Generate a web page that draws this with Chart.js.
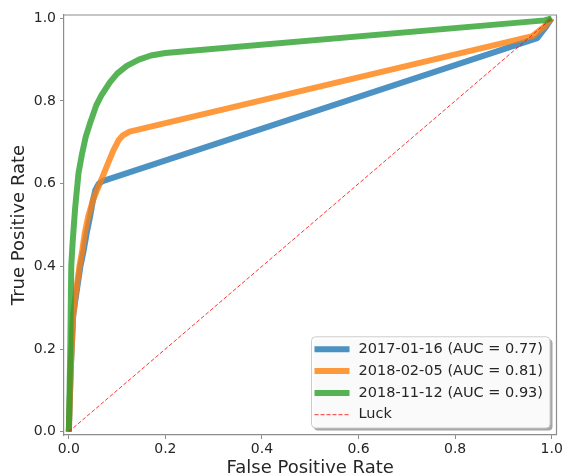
<!DOCTYPE html>
<html>
<head>
<meta charset="utf-8">
<script src="https://cdn.jsdelivr.net/npm/chart.js@4.4.1/dist/chart.umd.min.js"></script>
<style>
  html, body { margin: 0; padding: 0; background: #fff; }
</style>
</head>
<body>
<canvas id="roc" width="566" height="476"></canvas>
<script>
// tick labels on both axes
const tickValues = [0, 0.2, 0.4, 0.6, 0.8, 1.0];

// legend labels
const runLabels = [
    '2017-01-16 (AUC = 0.77)',
    '2018-02-05 (AUC = 0.81)',
    '2018-11-12 (AUC = 0.93)',
    'Luck',
];

// 2017-01-16
const fpr2017 = [0, 0.004, 0.009, 0.015, 0.024, 0.031, 0.037, 0.044, 0.05, 0.055, 0.062, 0.07, 0.97, 0.986, 1];
const tpr2017 = [0, 0.15, 0.28, 0.33, 0.40, 0.44, 0.48, 0.52, 0.56, 0.585, 0.60, 0.606, 0.952, 0.976, 1];

// 2018-02-05
const fpr2018a = [0, 0.004, 0.009, 0.014, 0.022, 0.028, 0.033, 0.04, 0.05, 0.064, 0.078, 0.092, 0.103, 0.112, 0.126, 0.96, 0.985, 1];
const tpr2018a = [0, 0.15, 0.28, 0.33, 0.40, 0.44, 0.48, 0.52, 0.56, 0.60, 0.64, 0.68, 0.705, 0.717, 0.726, 0.957, 0.98, 1];

// 2018-11-12
const fpr2018b = [0, 0.003, 0.005, 0.008, 0.013, 0.02, 0.027, 0.035, 0.045, 0.057, 0.068, 0.085, 0.10, 0.12, 0.145, 0.17, 0.2, 0.985, 1];
const tpr2018b = [0, 0.20, 0.40, 0.46, 0.54, 0.625, 0.67, 0.713, 0.75, 0.79, 0.815, 0.845, 0.866, 0.885, 0.90, 0.91, 0.916, 0.995, 1];

// random guess diagonal
const luckFpr = [0, 1];
const luckTpr = [0, 1];

const toPoints = (xs, ys) => xs.map((x, i) => ({ x: x, y: ys[i] }));

const FONT = 'DejaVu Sans';
const TEXT = '#262626';
const FRAME = '#8c8c8c';

// top and right edges of the axes box
const framePlugin = {
    id: 'frame',
    afterDatasetsDraw(chart) {
        const { ctx, chartArea } = chart;
        ctx.save();
        ctx.strokeStyle = FRAME;
        ctx.lineWidth = 1.2;
        ctx.beginPath();
        ctx.moveTo(chartArea.left, chartArea.top);
        ctx.lineTo(chartArea.right, chartArea.top);
        ctx.lineTo(chartArea.right, chartArea.bottom);
        ctx.stroke();
        ctx.restore();
    },
};

// legend inside the plot, lower right, like matplotlib with shadow
const legendPlugin = {
    id: 'boxLegend',
    afterDraw(chart) {
        const { ctx, chartArea } = chart;
        const sets = chart.data.datasets;
        ctx.save();
        ctx.font = '14.5px "' + FONT + '"';
        let maxW = 0;
        sets.forEach((ds) => {
            maxW = Math.max(maxW, ctx.measureText(ds.label).width);
        });
        const rowH = 21.8;
        const w = 47 + maxW + 7;
        const h = rowH * sets.length + 4;
        const x = chartArea.right - 6.5 - w;
        const y = chartArea.bottom - 7 - h;

        // shadow
        ctx.fillStyle = 'rgba(77,77,77,0.5)';
        ctx.beginPath();
        ctx.roundRect(x + 2.5, y + 2.5, w, h, 4);
        ctx.fill();

        ctx.fillStyle = 'rgba(255,255,255,0.95)';
        ctx.strokeStyle = '#cccccc';
        ctx.lineWidth = 1;
        ctx.beginPath();
        ctx.roundRect(x, y, w, h, 4);
        ctx.fill();
        ctx.stroke();

        sets.forEach((ds, i) => {
            const cy = y + 12.5 + i * rowH;
            ctx.strokeStyle = ds.borderColor;
            ctx.lineWidth = ds.borderWidth;
            ctx.setLineDash(ds.borderDash || []);
            ctx.beginPath();
            ctx.moveTo(x + 3, cy);
            ctx.lineTo(x + 38, cy);
            ctx.stroke();
            ctx.setLineDash([]);
            ctx.fillStyle = TEXT;
            ctx.textBaseline = 'middle';
            ctx.textAlign = 'left';
            ctx.fillText(ds.label, x + 47, cy);
        });
        ctx.restore();
    },
};

const axisCommon = {
    type: 'linear',
    afterBuildTicks: (scale) => {
        scale.ticks = tickValues.map((v) => ({ value: v }));
    },
    ticks: {
        callback: (v) => Number(v).toFixed(1),
        font: { family: FONT, size: 14 },
        color: TEXT,
        autoSkip: false,
        maxRotation: 0,
    },
    grid: {
        display: true,
        drawOnChartArea: false,
        drawTicks: true,
        tickLength: 4,
        color: FRAME,
        lineWidth: 1,
    },
    border: { display: true, color: FRAME, width: 1.2 },
};

const config = {
    type: 'scatter',
    data: {
        datasets: [
            {
                label: runLabels[0],
                data: toPoints(fpr2017, tpr2017),
                borderColor: 'rgba(31,119,180,0.8)',
                borderWidth: 6,
                order: 3,
            },
            {
                label: runLabels[1],
                data: toPoints(fpr2018a, tpr2018a),
                borderColor: 'rgba(255,127,14,0.8)',
                borderWidth: 6,
                order: 2,
            },
            {
                label: runLabels[2],
                data: toPoints(fpr2018b, tpr2018b),
                borderColor: 'rgba(44,160,44,0.8)',
                borderWidth: 6,
                order: 1,
            },
            {
                label: runLabels[3],
                data: toPoints(luckFpr, luckTpr),
                borderColor: 'rgba(255,0,0,0.8)',
                borderWidth: 1,
                borderDash: [4, 2],
                order: 0,
            },
        ].map((ds) => Object.assign(ds, {
            showLine: true,
            pointRadius: 0,
            pointHoverRadius: 0,
            tension: 0,
            fill: false,
            borderJoinStyle: 'round',
        })),
    },
    options: {
        responsive: false,
        animation: false,
        devicePixelRatio: 1,
        layout: { padding: { top: 15, right: 9.5, left: 0, bottom: 0 } },
        plugins: {
            legend: { display: false },
            tooltip: { enabled: false },
        },
        scales: {
            x: Object.assign({}, axisCommon, {
                min: -0.01,
                max: 1.01,
                ticks: Object.assign({}, axisCommon.ticks, { padding: 2 }),
                title: {
                    display: true,
                    text: 'False Positive Rate',
                    font: { family: FONT, size: 18, lineHeight: 1 },
                    color: TEXT,
                    padding: { top: 0, bottom: -1 },
                },
                afterFit: (scale) => { scale.height = 41; },
            }),
            y: Object.assign({}, axisCommon, {
                min: -0.008,
                max: 1.008,
                ticks: Object.assign({}, axisCommon.ticks, { padding: 4 }),
                title: {
                    display: true,
                    text: 'True Positive Rate',
                    font: { family: FONT, size: 18, lineHeight: 1 },
                    color: TEXT,
                    padding: { top: 10, bottom: 0 },
                },
                afterFit: (scale) => { scale.width = 64; },
            }),
        },
    },
    plugins: [framePlugin, legendPlugin],
};

const rocChart = new Chart(document.getElementById('roc'), config);
</script>
</body>
</html>
